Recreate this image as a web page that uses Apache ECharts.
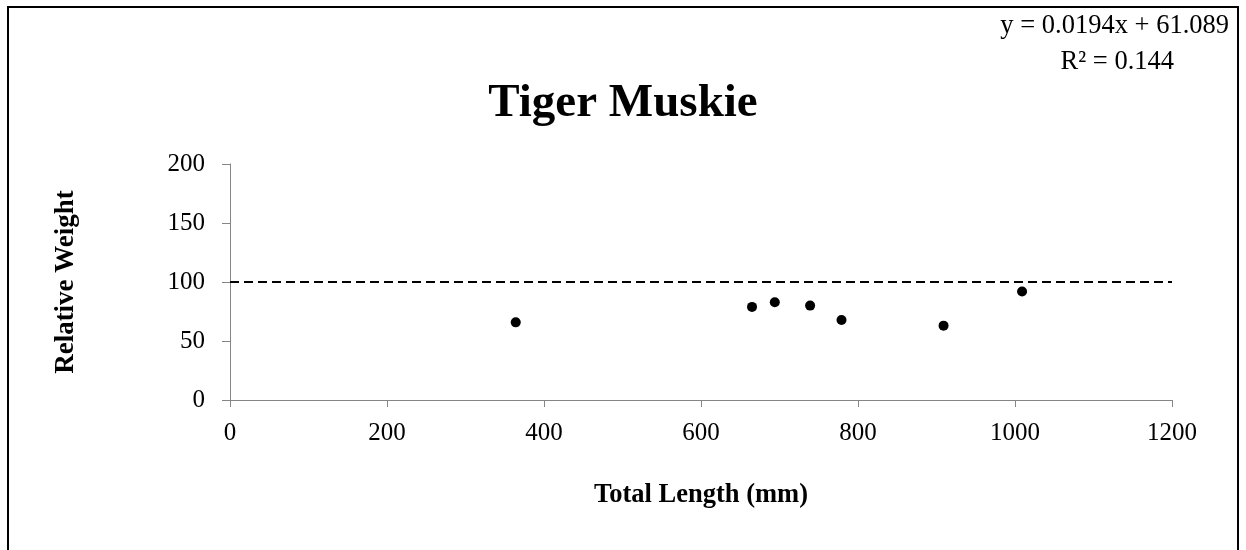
<!DOCTYPE html>
<html><head><meta charset="utf-8">
<script src="https://cdn.jsdelivr.net/npm/echarts@6/dist/echarts.min.js"></script>
<style>html,body{margin:0;padding:0;background:#fff}#c{width:1246px;height:550px}</style>
</head><body><div id="c"></div>
<script>
const lengths = [364, 665, 694, 739, 779, 909, 1009];
const relWeights = [65.8, 78.9, 82.8, 80.0, 67.8, 63.0, 91.9];
const xTicks = [0, 200, 400, 600, 800, 1000, 1200];
const yTicks = [0, 50, 100, 150, 200];
const referenceLine = 100;
const titleText = 'Tiger Muskie';
const equationLines = ['y = 0.0194x + 61.089', 'R² = 0.144'];

const FONT = '"Liberation Serif", "Times New Roman", serif';
const chart = echarts.init(document.getElementById('c'));
chart.setOption({
  animation: false,
  backgroundColor: '#fff',
  textStyle: {fontFamily: FONT},
  title: {text: titleText, left: 'center', top: 75, textStyle: {fontFamily: FONT, fontSize: 47, fontWeight: 'bold', color: '#000'}},
  grid: {left: 230, right: 74, top: 164, bottom: 150},
  xAxis: {
    type: 'value', min: xTicks[0], max: xTicks[xTicks.length-1], interval: 200,
    name: 'Total Length (mm)', nameLocation: 'middle', nameGap: 82,
    nameTextStyle: {fontFamily: FONT, fontSize: 26.5, fontWeight: 'bold', color: '#000'},
    axisLine: {show: true, lineStyle: {color: '#868686', width: 1}},
    axisTick: {show: true, inside: false, length: 7, lineStyle: {color: '#868686'}},
    axisLabel: {fontFamily: FONT, fontSize: 25, color: '#000', margin: 21, formatter: v => String(v)},
    splitLine: {show: false}
  },
  yAxis: {
    type: 'value', min: yTicks[0], max: yTicks[yTicks.length-1], interval: 50,
    name: 'Relative Weight', nameLocation: 'middle', nameGap: 150, nameRotate: 90,
    nameTextStyle: {fontFamily: FONT, fontSize: 27, fontWeight: 'bold', color: '#000'},
    axisLine: {show: true, lineStyle: {color: '#868686', width: 1}},
    axisTick: {show: true, inside: false, length: 8, lineStyle: {color: '#868686'}},
    axisLabel: {fontFamily: FONT, fontSize: 25, color: '#000', margin: 25, formatter: v => String(v)},
    splitLine: {show: false}
  },
  graphic: [
    {type: 'rect', shape: {x: 8, y: 7, width: 1230, height: 600}, style: {fill: 'none', stroke: '#000', lineWidth: 2}, silent: true, z: 100},
    {type: 'text', x: 1229, y: 26, style: {text: equationLines[0], font: '26.5px ' + FONT, fill: '#000', textAlign: 'right', textVerticalAlign: 'middle'}},
    {type: 'text', x: 1174, y: 62, style: {text: equationLines[1], font: '26.5px ' + FONT, fill: '#000', textAlign: 'right', textVerticalAlign: 'middle'}}
  ],
  series: [{
    type: 'scatter',
    data: lengths.map((x, i) => [x, relWeights[i]]),
    symbol: 'circle', symbolSize: 10,
    itemStyle: {color: '#000', opacity: 1},
    markLine: {
      silent: true, symbol: 'none', label: {show: false},
      lineStyle: {color: '#000', type: [9, 5], width: 2},
      data: [{yAxis: referenceLine}]
    }
  }]
});
</script></body></html>
